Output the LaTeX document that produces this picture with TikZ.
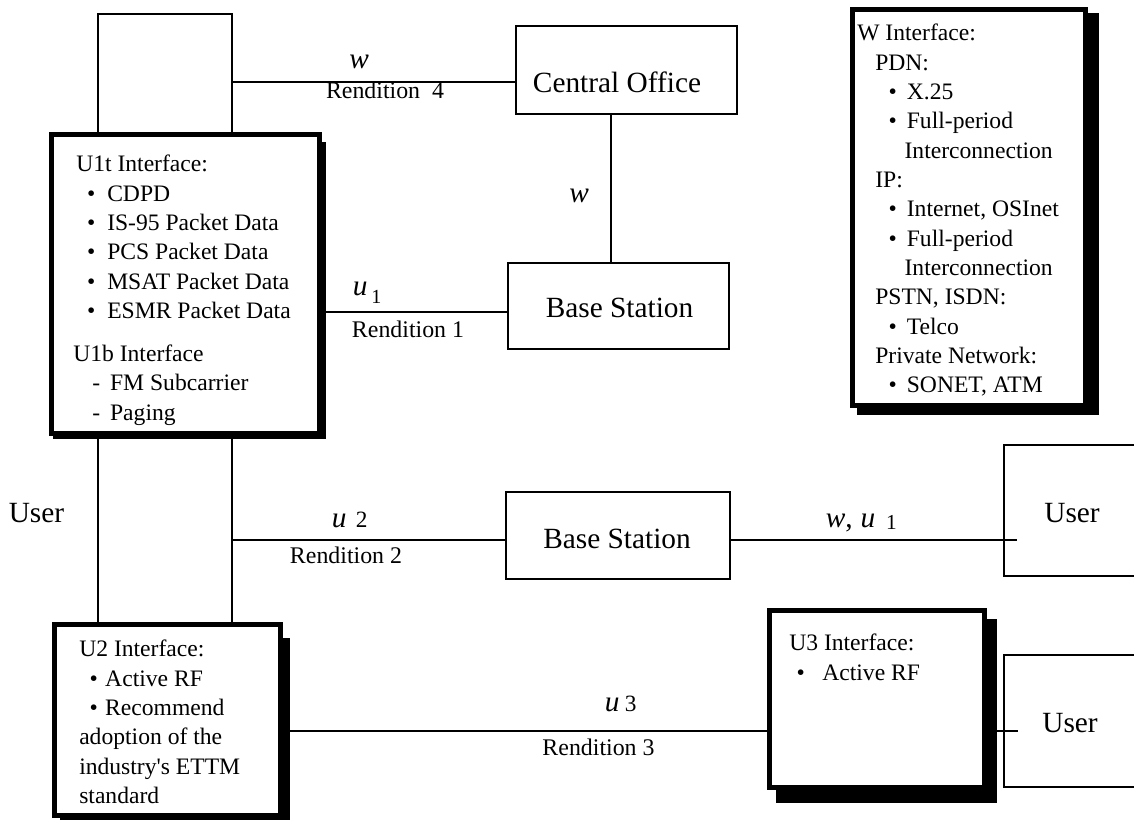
\documentclass[tikz,border=0pt]{standalone}
\usepackage{fontspec}
\setmainfont{Liberation Serif}
\usetikzlibrary{fit,backgrounds}
\newcommand{\mybul}[2]{\hspace*{#1}\textbullet\hspace{#2}}
\tikzset{
  thinbox/.style={draw, line width=1.5pt, fill=white, inner sep=0pt},
  thickbox/.style={draw, line width=3.75pt, fill=white, inner sep=0pt},
  link/.style={line width=1.5pt},
  bigtxt/.style={font=\fontsize{22}{26}\selectfont, inner sep=0pt},
  boxtxt/.style={font=\fontsize{17.7}{22}\selectfont, inner sep=0pt, align=left, anchor=north west},
  rendtxt/.style={font=\fontsize{17.9}{21}\selectfont, inner sep=0pt},
  vartxt/.style={font=\fontsize{22}{26}\selectfont\itshape, inner sep=0pt, anchor=base west},
}
\begin{document}
\begin{tikzpicture}[x=0.75pt,y=-0.75pt]
\useasboundingbox (0,0) rectangle (1134,819);
\clip (0,0) rectangle (1134,819);
% helper coordinates
\coordinate (vl) at (98.3,0);
\coordinate (vr) at (231.7,0);
\coordinate (vx) at (611,0);
\coordinate (y1) at (0,312);
\coordinate (j2) at (231.7,540);
\coordinate (j3) at (0,731);
\coordinate (ue) at (1017,540);
\coordinate (ue3) at (1018,731);
% boxes
\node[thinbox, fit={(98.3,13.7)(231.7,133)}] (tl) {};
\node[thickbox, fit={(51,134)(319,433)}] (u1t) {};
\node[thickbox, fit={(54.5,624)(280.5,815.5)}] (u2) {};
\node[thickbox, fit={(769.5,610.5)(984.5,787.5)}] (u3) {};
\node[thickbox, fit={(852.5,9.5)(1085.5,405.5)}] (wif) {};
\node[thinbox, fit={(516,26)(737,114)}] (co) {};
\node[thinbox, fit={(508,263)(729,349)}] (bs1) {};
\node[thinbox, fit={(506,492)(730,579)}] (bs2) {};
\node[thinbox, fit={(1004,445)(1150,576)}] (us1) {};
\node[thinbox, fit={(1004,655)(1150,787)}] (us3) {};
% texts in boxes
\node[bigtxt] (colab) at (617,82) {Central Office};
\node[bigtxt] (bs1lab) at (619.5,308) {Base Station};
\node[bigtxt] (bs2lab) at (617,539) {Base Station};
\node[bigtxt] (us1lab) at (1072,513) {User};
\node[bigtxt] (us3lab) at (1070,723) {User};
\node[bigtxt] (usl) at (36.5,513) {User};
\node[boxtxt] (u1ttxt) at (73,155) {\hspace*{2.25pt}U1t Interface:\\
\mybul{10.3pt}{9pt}CDPD\\
\mybul{10.3pt}{9pt}IS-95 Packet Data\\
\mybul{10.3pt}{9pt}PCS Packet Data\\
\mybul{10.3pt}{9pt}MSAT Packet Data\\
\mybul{10.3pt}{9pt}ESMR Packet Data\\[10.3pt]
U1b Interface\\
\hspace*{14.25pt}-\hspace{7.5pt}FM Subcarrier\\
\hspace*{14.25pt}-\hspace{7.5pt}Paging};
\node[boxtxt] (wtxt) at (857,24) {W Interface:\\
\hspace*{13.5pt}PDN:\\
\mybul{23.5pt}{7.5pt}X.25\\
\mybul{23.5pt}{7.5pt}Full-period\\
\hspace*{35.5pt}Interconnection\\
\hspace*{13.5pt}IP:\\
\mybul{23.5pt}{7.5pt}Internet, OSInet\\
\mybul{23.5pt}{7.5pt}Full-period\\
\hspace*{35.5pt}Interconnection\\
\hspace*{13.5pt}PSTN, ISDN:\\
\mybul{23.5pt}{7.5pt}Telco\\
\hspace*{13.5pt}Private Network:\\
\mybul{23.5pt}{7.5pt}SONET, ATM};
\node[boxtxt] (u2txt) at (79,640) {U2 Interface:\\
\mybul{7.8pt}{5.5pt}Active RF\\
\mybul{7.8pt}{5.5pt}Recommend\\
adoption of the\\
industry\textquotesingle s ETTM\\
standard};
\node[boxtxt] (u3txt) at (789,634) {U3 Interface:\\
\mybul{5.6pt}{13pt}Active RF};
% connector labels
\node[vartxt] (w4) at (349,68) {w};
\node[rendtxt] (r4) at (385,90.5) {Rendition\ \ 4};
\node[vartxt] (wv) at (569,202) {w};
\node[vartxt] (u1l) at (352.5,295) {u\hspace{3pt}\raisebox{-6pt}{\upshape\fontsize{15}{18}\selectfont 1}};
\node[rendtxt] (r1) at (408,329.5) {Rendition 1};
\node[vartxt] (u2l) at (331.5,527) {u\hspace{7pt}{\upshape\fontsize{17.5}{20}\selectfont 2}};
\node[rendtxt] (r2) at (346,555) {Rendition 2};
\node[vartxt] (wu1l) at (825.5,527) {w{\upshape,}\hspace{6pt}u\hspace{8pt}\raisebox{-1.5pt}{\upshape\fontsize{16}{19}\selectfont 1}};
\node[vartxt] (u3l) at (604.5,711) {u\hspace{4pt}{\upshape\fontsize{17.5}{20}\selectfont 3}};
\node[rendtxt] (r3) at (598.5,747) {Rendition 3};
% shadows and connectors behind the boxes
\begin{scope}[on background layer]
  \fill (53,142) rectangle (326,439);
  \fill (60,638) rectangle (290,830);
  \fill (776,619) rectangle (997,803);
  \fill (857,13) rectangle (1099,415);
  \draw[link] (tl.east |- colab) -- (co.west |- colab);
  \draw[link] (co.south -| vx) -- (bs1.north -| vx);
  \draw[link] (u1t.east |- y1) -- (bs1.west |- y1);
  \draw[link] (u1t.south -| vl) -- (u2.north -| vl);
  \draw[link] (u1t.south -| vr) -- (u2.north -| vr);
  \draw[link] (j2) -- (bs2.west |- j2);
  \draw[link] (u2.east |- j3) -- (u3.west |- j3);
\end{scope}
% connectors that run into the user boxes
\draw[link] (bs2.east |- j2) -- (ue);
\draw[link] (u3.east |- j3) -- (ue3);
\end{tikzpicture}
\end{document}
